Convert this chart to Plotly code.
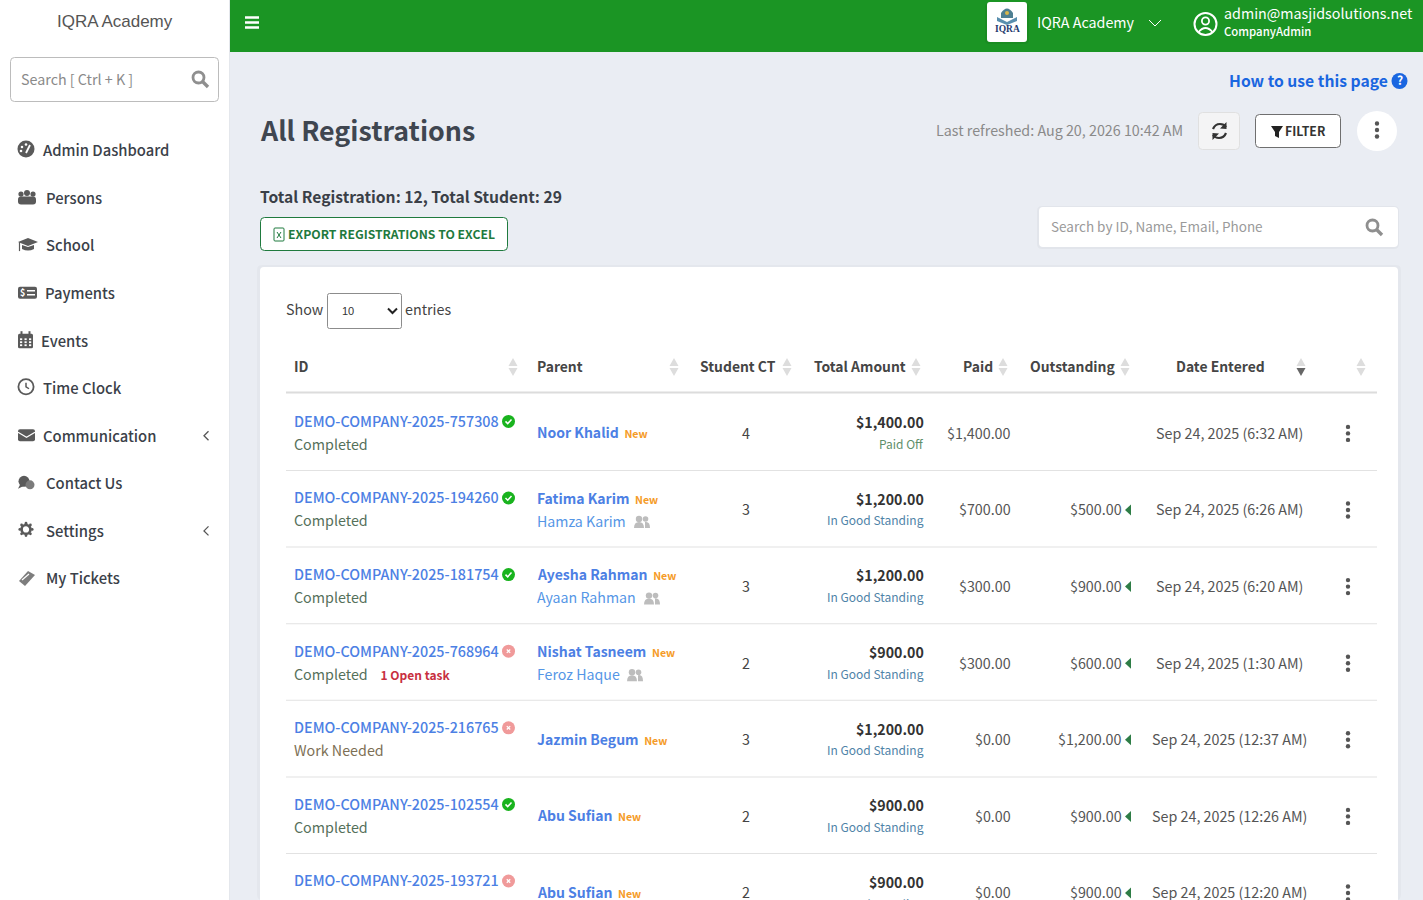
import plotly.graph_objects as go

# table data
order_ids = ['DEMO-COMPANY-2025-757308', 'DEMO-COMPANY-2025-194260', 'DEMO-COMPANY-2025-181754',
             'DEMO-COMPANY-2025-768964', 'DEMO-COMPANY-2025-216765', 'DEMO-COMPANY-2025-102554',
             'DEMO-COMPANY-2025-193721']
id_ok = [True, True, True, False, False, True, False]
statuses = ['Completed', 'Completed', 'Completed', 'Completed', 'Work Needed', 'Completed', 'Incomplete']
open_tasks = ['', '', '', '1 Open task', '', '', '']
parents = ['Noor Khalid', 'Fatima Karim', 'Ayesha Rahman', 'Nishat Tasneem', 'Jazmin Begum', 'Abu Sufian', 'Abu Sufian']
second_parents = ['', 'Hamza Karim', 'Ayaan Rahman', 'Feroz Haque', '', '', '']
student_ct = [4, 3, 3, 2, 3, 2, 2]
totals = ['$1,400.00', '$1,200.00', '$1,200.00', '$900.00', '$1,200.00', '$900.00', '$900.00']
standing = ['Paid Off', 'In Good Standing', 'In Good Standing', 'In Good Standing', 'In Good Standing',
            'In Good Standing', 'In Good Standing']
paid = ['$1,400.00', '$700.00', '$300.00', '$300.00', '$0.00', '$0.00', '$0.00']
outstanding = ['', '$500.00', '$900.00', '$600.00', '$1,200.00', '$900.00', '$900.00']
dates = ['Sep 24, 2025 (6:32 AM)', 'Sep 24, 2025 (6:26 AM)', 'Sep 24, 2025 (6:20 AM)', 'Sep 24, 2025 (1:30 AM)',
         'Sep 24, 2025 (12:37 AM)', 'Sep 24, 2025 (12:26 AM)', 'Sep 24, 2025 (12:20 AM)']

headers = ['ID', 'Parent', 'Student CT', 'Total Amount', 'Paid', 'Outstanding', 'Date Entered']
menu_items = ['Admin Dashboard', 'Persons', 'School', 'Payments', 'Events', 'Time Clock', 'Communication',
              'Contact Us', 'Settings', 'My Tickets']

# layout constants
FONT = 'Noto Sans CJK SC'
GREEN = '#1b9524'
BG = '#eaedf3'
BLUE = '#4c80e4'
DARK = '#3b4149'
header_x = [294, 537, 700, 814, 963, 1030, 1176]
sort_x = [513, 674, 787, 916, 1003, 1125, 1301, 1361]
menu_text_x = [43, 46, 46, 45, 41, 43, 43, 46, 46, 46]
group_icon_x = [0, 642, 652, 635, 0, 0, 0]

shapes = []
annotations = []


def txt(x, y, s, size=14.3, color='#444444', anchor='left', weight=400, family=FONT, va='middle'):
    # the CJK font sits a little low against the reference
    if family == FONT:
        y = y - 1.2
    annotations.append(dict(x=x, y=y, text=s, showarrow=False, xanchor=anchor, yanchor=va, xshift=0,
                            font=dict(family=family, size=size, color=color, weight=weight),
                            borderpad=0, borderwidth=0))


def rect(x0, y0, x1, y1, fill=None, line=None, r=0, lw=1):
    if r:
        p = (f'M{x0+r},{y0} L{x1-r},{y0} Q{x1},{y0} {x1},{y0+r} L{x1},{y1-r} Q{x1},{y1} {x1-r},{y1} '
             f'L{x0+r},{y1} Q{x0},{y1} {x0},{y1-r} L{x0},{y0+r} Q{x0},{y0} {x0+r},{y0} Z')
        shapes.append(dict(type='path', path=p, fillcolor=fill or 'rgba(0,0,0,0)', line=dict(color=line or 'rgba(0,0,0,0)', width=lw if line else 0)))
    else:
        shapes.append(dict(type='rect', x0=x0, y0=y0, x1=x1, y1=y1, fillcolor=fill or 'rgba(0,0,0,0)', line=dict(color=line or 'rgba(0,0,0,0)', width=lw if line else 0)))


def circle(cx, cy, r, fill=None, line=None, lw=1):
    shapes.append(dict(type='circle', x0=cx-r, y0=cy-r, x1=cx+r, y1=cy+r, fillcolor=fill or 'rgba(0,0,0,0)',
                       line=dict(color=line or 'rgba(0,0,0,0)', width=lw if line else 0)))


def path(p, fill=None, line=None, lw=1):
    shapes.append(dict(type='path', path=p, fillcolor=fill or 'rgba(0,0,0,0)', line=dict(color=line or 'rgba(0,0,0,0)', width=lw if line else 0)))


def magnifier(cx, cy, color):
    circle(cx-1.5, cy-1.5, 5.5, None, color, 2.8)
    path(f'M{cx+2.5},{cy+2.5} L{cx+8},{cy+8}', None, color, 3.4)


def dots(cx, cy, color='#555555'):
    for d in (-6.5, 0, 6.5):
        circle(cx, cy+d, 2.2, color)


def people(cx, cy, color='#bdbdbd'):
    circle(cx-3, cy-3, 3.2, color)
    circle(cx+3.5, cy-3, 2.8, color)
    path(f'M{cx-8},{cy+6} Q{cx-8},{cy} {cx-3},{cy} Q{cx+2},{cy} {cx+2},{cy+6} Z', color)
    path(f'M{cx+3},{cy+6} L{cx+3},{cy} Q{cx+8},{cy-1} {cx+8},{cy+6} Z', color)


# page regions
rect(0, 0, 1423, 900, BG)
rect(0, 0, 229, 900, '#ffffff')
rect(229, 0, 230, 900, '#e4e7ec')
rect(230, 0, 1423, 52, GREEN)

# sidebar
txt(115, 21, 'IQRA Academy', 17, '#555555', 'center', family='Liberation Sans')
rect(10.5, 57.5, 218.5, 101.5, '#ffffff', '#bcbcbc', 4)
txt(21, 80, 'Search [ Ctrl + K ]', 14.3, '#8a8a8a')
magnifier(200, 79, '#8f8f8f')

MENU_STEP = 47.55
for i, item in enumerate(menu_items):
    y_item = 151 + i * MENU_STEP
    txt(menu_text_x[i], y_item, item, 14.8, DARK, weight=500)
IC = '#5a5a5a'
my = [150 + i * MENU_STEP for i in range(10)]
# dashboard gauge
circle(26, my[0]-1, 8.5, IC)
circle(22, my[0]-3, 1.3, '#ffffff'); circle(26, my[0]-5.5, 1.3, '#ffffff'); circle(21, my[0]+1, 1.3, '#ffffff')
path(f'M26,{my[0]+3} L30,{my[0]-5}', None, '#ffffff', 1.8)
# persons
circle(21, my[1]-3.5, 2.6, IC); circle(27, my[1]-4.5, 3, IC); circle(33, my[1]-3.5, 2.6, IC)
rect(18, my[1]-1, 36, my[1]+7, IC, None, 3)
# school cap
path(f'M18,{my[2]-3} L28,{my[2]-7} L38,{my[2]-3} L28,{my[2]+1} Z', IC)
path(f'M22,{my[2]+0} L22,{my[2]+4} Q28,{my[2]+7} 34,{my[2]+4} L34,{my[2]+0} L28,{my[2]+2} Z', IC)
path(f'M19.5,{my[2]-3} L19.5,{my[2]+6}', None, IC, 1.2)
# payments
rect(18, my[3]-6, 37, my[3]+6, IC, None, 2)
path(f'M27,{my[3]-2} L35,{my[3]-2} M27,{my[3]+2} L35,{my[3]+2}', None, '#ffffff', 1.5)
txt(22.5, my[3]+1, '$', 9, '#ffffff', 'center', 700)
# events calendar
rect(18, my[4]-6.5, 33, my[4]+8, IC, None, 1.5)
rect(20.5, my[4]-9, 22.5, my[4]-5, IC)
rect(28.5, my[4]-9, 30.5, my[4]-5, IC)
for cx in (21, 25.5, 30):
    for cy in (my[4]-1, my[4]+2, my[4]+5):
        rect(cx-1, cy-0.9, cx+1.2, cy+0.9, '#ffffff')
# clock
circle(26, my[5]-1, 7.6, None, IC, 1.8)
path(f'M26,{my[5]-5} L26,{my[5]-1} L29,{my[5]+1}', None, IC, 1.5)
# envelope
rect(18, my[6]-6, 35, my[6]+6, IC, None, 2)
path(f'M18,{my[6]-3} L26.5,{my[6]+2} L35,{my[6]-3}', None, '#ffffff', 1.2)
path(f'M208.5,{my[6]-4} L204,{my[6]+0.5} L208.5,{my[6]+5}', None, '#555555', 1.3)
# contact bubbles
circle(24, my[7]-1.5, 5.5, IC)
path(f'M20,{my[7]+2} L18,{my[7]+6} L24,{my[7]+3} Z', IC)
circle(30, my[7]+2, 4.5, '#7b7b7b')
# settings gear
circle(26, my[8]-1, 4.4, None, IC, 2.6)
for a, b in ((0, 6.2), (0, -6.2), (6.2, 0), (-6.2, 0), (4.4, 4.4), (-4.4, 4.4), (4.4, -4.4), (-4.4, -4.4)):
    circle(26+a, my[8]-1+b, 1.4, IC)
path(f'M208.5,{my[8]-4} L204,{my[8]+0.5} L208.5,{my[8]+5}', None, '#555555', 1.3)
# tickets tag
path(f'M19,{my[9]+3} L28,{my[9]-7} L35,{my[9]-3} L25,{my[9]+8} Z', '#7d7d7d')
path(f'M22,{my[9]+2} L29,{my[9]-4}', None, '#ffffff', 1.2)

# top bar
path('M245,17.5 L259,17.5 M245,22.5 L259,22.5 M245,27.5 L259,27.5', None, '#ffffff', 2.4)
rect(985, 3, 1029, 44, 'rgba(0,0,0,0.06)', None, 4)
rect(987, 2, 1027, 42, '#ffffff', None, 3)
path('M1001,13 Q1007,4 1013,13 L1013,18 L1001,18 Z', '#4e7f92')
path('M997,17 L1007,22 L1017,17 L1017,21 L1007,25 L997,21 Z', '#5a8fae')
circle(1007, 13, 2, '#d9b64a')
txt(1007, 29, 'IQRA', 9.5, '#1f3a6e', 'center', 700, family='Liberation Serif')
txt(1037, 23, 'IQRA Academy', 14.3, '#ffffff')
path('M1149,20 L1155,26 L1161,20', None, '#ffffff', 1)
circle(1205.5, 24, 11, None, '#ffffff', 2)
circle(1205.5, 21, 3.6, None, '#ffffff', 1.8)
path('M1198.5,32 Q1205.5,24 1212.5,32', None, '#ffffff', 1.8)
txt(1224, 14, 'admin@masjidsolutions.net', 14.3, '#ffffff')
txt(1224, 32, 'CompanyAdmin', 11.4, '#ffffff', weight=500)

# title row
txt(1388, 82, 'How to use this page', 15.7, '#1a66e0', 'right', 600)
circle(1399.5, 81, 8, '#1a66e0')
txt(1399.5, 81, '?', 12, '#ffffff', 'center', 700)
txt(259.5, 131, 'All Registrations', 26.8, '#3f4650', weight=700)
txt(1183, 131, 'Last refreshed: Aug 20, 2026 10:42 AM', 14.3, '#8a8a8a', 'right')
rect(1198.5, 112.5, 1239.5, 149.5, '#f4f4f5', '#e0e0e0', 4)
path('M1213,129 Q1215,124 1220,124 Q1224,124 1226,127', None, '#333333', 2.2)
path('M1226,133 Q1224,138 1219,138 Q1215,138 1213,135', None, '#333333', 2.2)
path('M1226.5,122 L1226.5,129 L1220,128.5 Z M1212.5,140 L1212.5,133 L1219,133.5 Z', '#333333')
rect(1255.5, 114.5, 1340.5, 147.5, '#ffffff', '#6f6f6f', 4)
path('M1271,126 L1283,126 L1279,132 L1279,138 L1275,136 L1275,132 Z', '#222222')
txt(1285, 132, 'FILTER', 12.3, '#333333', weight=600)
circle(1377, 131, 20, '#ffffff')
dots(1377, 130)

# summary row
txt(260, 198, 'Total Registration: 12, Total Student: 29', 15.65, '#3a3f47', weight=600)
rect(260.5, 217.5, 507.5, 250.5, '#ffffff', '#1f7a3e', 4)
rect(274, 228, 284, 241, '#ffffff', '#1f7a3e', 1)
path('M277,232 L281,238 M281,232 L277,238', None, '#1f7a3e', 1)
txt(288, 235.5, 'EXPORT REGISTRATIONS TO EXCEL', 12.2, '#1f7a3e', weight=600)
rect(1037, 206, 1399, 249, 'rgba(0,0,0,0.03)', None, 5)
rect(1039, 207, 1398, 247, '#ffffff', None, 4)
txt(1051, 227, 'Search by ID, Name, Email, Phone', 13.5, '#9a9a9a')
magnifier(1374, 227, '#8f8f8f')

# card
rect(257, 265, 1401, 900, 'rgba(0,0,0,0.025)', None, 5)
rect(260, 267, 1398, 920, '#ffffff', None, 4)
txt(286, 310, 'Show', 14.3, '#444444')
rect(327.5, 293.5, 401.5, 328.5, '#ffffff', '#8c8c8c', 2)
txt(342, 311, '10', 11, '#333333', family='Liberation Sans')
path('M388,308.5 L392.5,313 L397,308.5', None, '#222222', 2)
txt(405, 310, 'entries', 14.3, '#444444')

# table header
for h, x in zip(headers, header_x):
    txt(x, 367, h, 13.9, '#454545', weight=700)
for i, x in enumerate(sort_x):
    path(f'M{x-4.5},366 L{x},358 L{x+4.5},366 Z', '#dddddd')
    down = '#666666' if i == 6 else '#dddddd'
    path(f'M{x-4.5},368 L{x},376 L{x+4.5},368 Z', down)
rect(286, 391.5, 1377, 393.5, '#dcdcdc')

# table rows
ROW0 = 433.4
ROW_STEP = 76.6
for i in range(len(order_ids)):
    c = ROW0 + i * ROW_STEP
    rect(286, c+36.6, 1377, c+37.6, '#e2e2e2')
    txt(294, c-12, order_ids[i], 14.35, BLUE, weight=500)
    if id_ok[i]:
        circle(508.5, c-12, 6.5, '#19b31e')
        path(f'M505.5,{c-12} L507.7,{c-9.8} L511.5,{c-14}', None, '#ffffff', 1.5)
    else:
        circle(508.5, c-12, 6.5, '#f09a9a')
        path(f'M506.8,{c-13.7} L510.2,{c-10.3} M510.2,{c-13.7} L506.8,{c-10.3}', None, '#ffffff', 1.3)
    status_color = {'Completed': '#55705a', 'Work Needed': '#7d6f55', 'Incomplete': '#d9423c'}[statuses[i]]
    label = statuses[i]
    if open_tasks[i]:
        label += ('&nbsp;&nbsp;&nbsp;&nbsp;<span style="font-size:12px;color:#c8303f"><b>'
                  + open_tasks[i] + '</b></span>')
    if c+11 < 900:
        txt(294, c+11, label, 14.3, status_color)
    else:
        # last row runs off the page, only the tops of the letters show
        txt(294, 896, label, 14.3, status_color, va='top')

    new_tag = '&nbsp;<span style="font-size:10.6px;color:#f59b27">&nbsp;New</span>'
    name = f'{parents[i]}{new_tag}'
    if second_parents[i]:
        txt(537, c-11, name, 14, BLUE, weight=600)
        txt(537, c+12, second_parents[i], 14.2, '#5596e6')
        people(group_icon_x[i], c+12)
    else:
        txt(537, c, name, 14, BLUE, weight=600)
    txt(746, c, str(student_ct[i]), 14.3, '#444444', 'center')
    txt(924, c-10, totals[i], 14.2, '#333333', 'right', 700)
    st_color = '#5f8f6b' if standing[i] == 'Paid Off' else '#4f83a8'
    if c+11 < 900:
        txt(924, c+11, standing[i], 12, st_color, 'right')
    else:
        txt(924, 896.5, standing[i], 12, st_color, 'right', va='top')
    txt(1011, c, paid[i], 14.3, '#555555', 'right')
    if outstanding[i]:
        txt(1122, c, outstanding[i], 14.3, '#555555', 'right')
        path(f'M1131,{c-5.5} L1125,{c} L1131,{c+5.5} Z', '#2e7d46')
    txt(1229, c, dates[i], 14.3, '#555555', 'center')
    dots(1348, c)

fig = go.Figure()
fig.update_layout(
    width=1423, height=900, margin=dict(l=0, r=0, t=0, b=0),
    paper_bgcolor=BG, plot_bgcolor=BG, showlegend=False, hovermode=False,
    xaxis=dict(range=[0, 1423], visible=False, fixedrange=True),
    yaxis=dict(range=[900, 0], visible=False, fixedrange=True),
    shapes=shapes, annotations=annotations,
)
fig.write_html('out.html', config=dict(displayModeBar=False),
               post_script="document.body.style.margin='0';document.body.style.overflow='hidden';")
